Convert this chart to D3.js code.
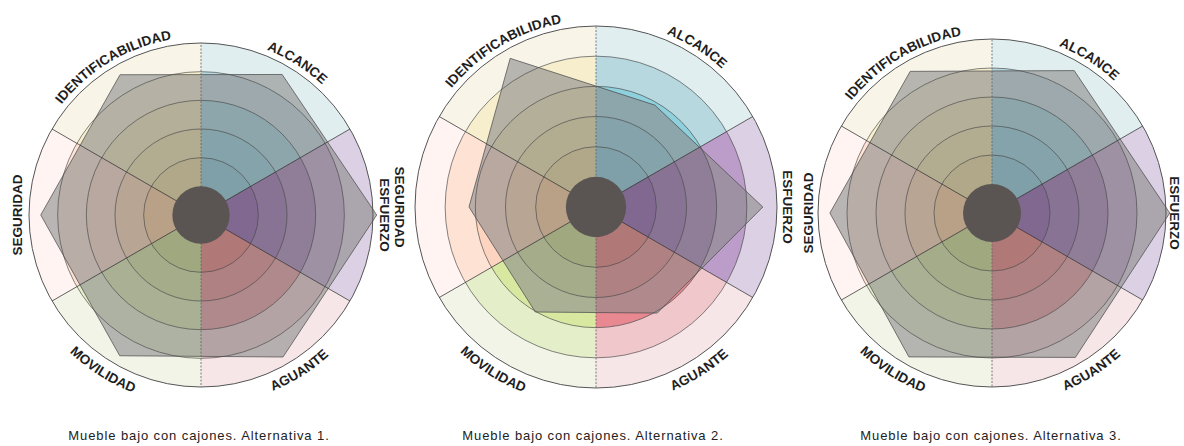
<!DOCTYPE html>
<html><head><meta charset="utf-8">
<script src="https://cdn.jsdelivr.net/npm/d3@7"></script>
<style>
html,body{margin:0;padding:0;background:#fff;}
svg{display:block;}
</style></head>
<body>
<svg id="chart" width="1184" height="446"></svg>
<script>
// ---------- data ----------
const categories = ["ALCANCE","ESFUERZO","AGUANTE","MOVILIDAD","SEGURIDAD","IDENTIFICABILIDAD"];
const titles = ["Mueble bajo con cajones. Alternativa 1.","Mueble bajo con cajones. Alternativa 2.","Mueble bajo con cajones. Alternativa 3."];
const alternativa1 = [5.66, 6.13, 5.72, 5.67, 5.59, 5.65];
const alternativa2 = [3.90, 5.53, 4.06, 4.02, 4.21, 5.69];
const alternativa3 = [5.67, 6.13, 5.75, 5.73, 5.59, 5.64];
const gridLevels = [2, 3, 4, 5];
const bandLevels = [6, 5, 4, 3, 2];
const maxLevel = 6;

// ---------- styles ----------
const palette = {
  ALCANCE:           ["#e0eef0","#b8d8e0","#8ed0dc","#6ec1d5"],
  ESFUERZO:          ["#dcd0e4","#bc9cc8","#9a6cb0","#713599"],
  AGUANTE:           ["#f6e6e8","#f0c8cc","#e88890","#e95d5a"],
  MOVILIDAD:         ["#f2f4e8","#e4eec8","#d8e8a0","#c1d571"],
  SEGURIDAD:         ["#fff4f2","#fee2d4","#fdd4c0","#ffc382"],
  IDENTIFICABILIDAD: ["#f8f4e8","#f6eecc","#f2e6b0","#e9d585"]
};
function bandColor(cat, level){
  const p = palette[cat];
  if (level >= 6) return p[0];
  if (level >= 5) return p[1];
  if (level >= 4) return p[2];
  if (level >= 3) return d3.interpolateRgb(p[2], p[3])(0.5);
  return p[3];
}
// segRot: orientation of the left (SEGURIDAD) label
const layouts = [
  {cx: 201, cy: 215, R: 172, data: alternativa1, title: titles[0], tx: 199, segRot: -90, segX: -7,  esfX: 7},
  {cx: 596, cy: 207, R: 181, data: alternativa2, title: titles[1], tx: 593, segRot: 90,  segX: -20, esfX: 6},
  {cx: 992, cy: 213, R: 174, data: alternativa3, title: titles[2], tx: 991, segRot: -90, segX: -5,  esfX: 4}
];

const svg = d3.select("#chart");
const defs = svg.append("defs");
const step = 2 * Math.PI / categories.length;
const labelFont = "Liberation Sans, Arial, sans-serif";

layouts.forEach((L, ci) => {
  const r = d3.scaleLinear().domain([0, maxLevel]).range([0, L.R]);
  const g = svg.append("g").attr("transform", `translate(${L.cx},${L.cy})`);

  // sector bands
  const arc = d3.arc().innerRadius(0);
  bandLevels.forEach(level => {
    g.append("g").selectAll("path").data(categories).join("path")
      .attr("d", (c, i) => arc({outerRadius: r(level), startAngle: i * step, endAngle: (i + 1) * step}))
      .attr("fill", c => bandColor(c, level));
  });

  // data polygon
  const line = d3.lineRadial().angle((d, i) => (i + 0.5) * step).radius(d => r(d)).curve(d3.curveLinearClosed);
  g.append("path").attr("d", line(L.data))
    .attr("fill", "#8a8a8a").attr("fill-opacity", 0.6)
    .attr("stroke", "#4a4a4a").attr("stroke-width", 0.9).attr("stroke-opacity", 0.8);

  // grid rings
  g.append("g").selectAll("circle").data(gridLevels).join("circle")
    .attr("r", d => r(d)).attr("fill", "none")
    .attr("stroke", "#4a4a4a").attr("stroke-width", 0.9).attr("stroke-opacity", 0.75);
  g.append("circle").attr("r", r(maxLevel)).attr("fill", "none")
    .attr("stroke", "#555").attr("stroke-width", 1);

  // radial boundaries
  categories.forEach((c, i) => {
    const a = i * step;
    const vertical = (i === 0 || i === 3);
    g.append("line")
      .attr("x1", 0).attr("y1", 0)
      .attr("x2", r(maxLevel) * Math.sin(a)).attr("y2", -r(maxLevel) * Math.cos(a))
      .attr("stroke", vertical ? "#666" : "#333")
      .attr("stroke-width", vertical ? 1 : 0.9)
      .attr("stroke-dasharray", vertical ? "2,1.5" : null)
      .attr("stroke-opacity", 0.85);
  });

  // centre disc
  g.append("circle").attr("r", r(1)).attr("fill", "#5a5553");

  // labels
  const lab = svg.append("g").attr("font-family", labelFont).attr("font-weight", "bold")
    .attr("font-size", 13.5).attr("fill", "#1e1e1e");
  function pt(a, rr){ return [L.cx + rr * Math.sin(a), L.cy - rr * Math.cos(a)]; }
  categories.forEach((c, i) => {
    const mid = (i + 0.5) * step;
    const deg = mid * 180 / Math.PI;
    if (deg < 60 || deg > 300) {
      const rr = L.R + 6, span = 0.9;
      const shift = deg < 60 ? 0.04 : -0.01;
      const p1 = pt(mid + shift - span, rr), p2 = pt(mid + shift + span, rr);
      const id = `lp${ci}_${i}`;
      defs.append("path").attr("id", id)
        .attr("d", `M${p1[0]},${p1[1]} A${rr},${rr} 0 0 1 ${p2[0]},${p2[1]}`);
      lab.append("text").append("textPath").attr("href", "#" + id)
        .attr("startOffset", "50%").attr("text-anchor", "middle").text(c);
    } else if (deg > 120 && deg < 240) {
      const rr = L.R + 18, span = 0.9;
      const shift = deg < 180 ? -0.04 : 0.04;
      const p1 = pt(mid + shift + span, rr), p2 = pt(mid + shift - span, rr);
      const id = `lp${ci}_${i}`;
      defs.append("path").attr("id", id)
        .attr("d", `M${p1[0]},${p1[1]} A${rr},${rr} 0 0 0 ${p2[0]},${p2[1]}`);
      lab.append("text").append("textPath").attr("href", "#" + id)
        .attr("startOffset", "50%").attr("text-anchor", "middle").text(c);
    } else if (deg >= 60 && deg <= 120) {
      const x = L.cx + L.R + L.esfX;
      lab.append("text").attr("transform", `translate(${x},${L.cy}) rotate(90)`)
        .attr("text-anchor", "middle").text(c);
    } else {
      const x = L.cx - L.R + L.segX;
      lab.append("text").attr("transform", `translate(${x},${L.cy}) rotate(${L.segRot})`)
        .attr("text-anchor", "middle").text(c);
    }
  });

  // title
  svg.append("text").attr("x", L.tx).attr("y", 440)
    .attr("text-anchor", "middle")
    .attr("font-family", labelFont)
    .attr("font-size", 13).attr("letter-spacing", 0.9).attr("fill", "#222")
    .text(L.title);
});
</script>
</body></html>
